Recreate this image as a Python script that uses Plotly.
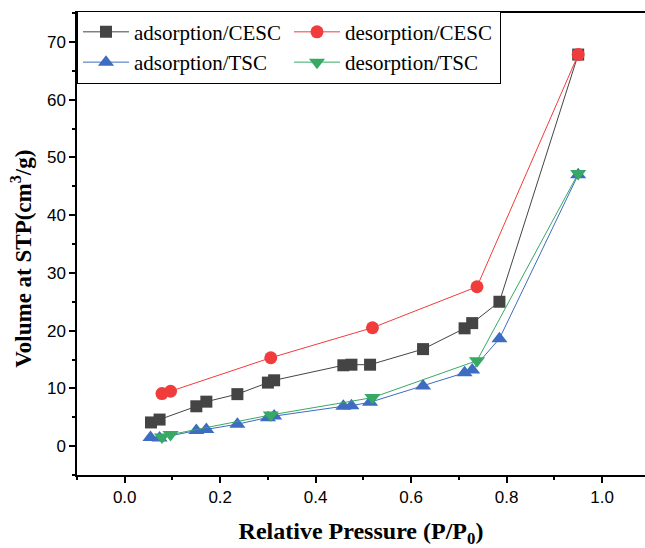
import plotly.graph_objects as go

# adsorption / CESC
ads_cesc_x = [0.055, 0.073, 0.150, 0.171, 0.236, 0.300, 0.313, 0.458, 0.475, 0.514, 0.625, 0.712, 0.728, 0.785, 0.950]
ads_cesc_y = [4.1, 4.6, 6.9, 7.7, 9.0, 11.0, 11.4, 14.0, 14.1, 14.1, 16.8, 20.4, 21.3, 25.0, 67.8]
# desorption / CESC
des_cesc_x = [0.078, 0.096, 0.306, 0.519, 0.738, 0.950]
des_cesc_y = [9.1, 9.5, 15.3, 20.5, 27.6, 67.8]
# adsorption / TSC
ads_tsc_x = [0.054, 0.073, 0.150, 0.171, 0.236, 0.300, 0.313, 0.458, 0.475, 0.514, 0.625, 0.712, 0.728, 0.785, 0.950]
ads_tsc_y = [1.5, 1.4, 2.7, 2.9, 3.8, 4.9, 5.2, 6.9, 7.0, 7.6, 10.4, 12.7, 13.2, 18.6, 47.0]
# desorption / TSC
des_tsc_x = [0.078, 0.096, 0.306, 0.519, 0.738, 0.950]
des_tsc_y = [1.6, 2.0, 5.4, 8.4, 14.8, 47.2]

x_ticks = [0.0, 0.2, 0.4, 0.6, 0.8, 1.0]
x_tick_labels = ["0.0", "0.2", "0.4", "0.6", "0.8", "1.0"]
y_ticks = [0, 10, 20, 30, 40, 50, 60, 70]

x_title = "<b>Relative Pressure (P/P<sub>0</sub>)</b>"
y_title = "<b>Volume at STP(cm<sup>3</sup>/g)</b>"

fig = go.Figure()
fig.add_trace(go.Scatter(x=ads_cesc_x, y=ads_cesc_y, name="adsorption/CESC", mode="lines+markers",
                         line=dict(color="#444444", width=1),
                         marker=dict(symbol="square", size=12, color="#444444")))
fig.add_trace(go.Scatter(x=des_cesc_x, y=des_cesc_y, name="desorption/CESC", mode="lines+markers",
                         line=dict(color="#f03c3c", width=1),
                         marker=dict(symbol="circle", size=13, color="#f03c3c")))
fig.add_trace(go.Scatter(x=ads_tsc_x, y=ads_tsc_y, name="adsorption/TSC", mode="lines+markers",
                         line=dict(color="#3d6cc0", width=1),
                         marker=dict(symbol="triangle-up", size=14, color="#3d6cc0")))
fig.add_trace(go.Scatter(x=des_tsc_x, y=des_tsc_y, name="desorption/TSC", mode="lines+markers",
                         line=dict(color="#38a865", width=1),
                         marker=dict(symbol="triangle-down", size=14, color="#38a865")))

tickfont = dict(family="Liberation Sans, Arial", size=17, color="#000000")
xtitlefont = dict(family="Liberation Serif, Times New Roman", size=24, color="#000000")
ytitlefont = dict(family="Liberation Serif, Times New Roman", size=23, color="#000000")

fig.update_layout(
    width=645, height=548,
    margin=dict(l=77, r=0, t=13, b=73),
    paper_bgcolor="white", plot_bgcolor="white",
    showlegend=True,
    legend=dict(orientation="h", x=0.0, y=1.005, xanchor="left", yanchor="top",
                entrywidth=150, entrywidthmode="pixels",
                font=dict(family="Liberation Serif, Times New Roman", size=21, color="#000000"),
                bordercolor="#000000", borderwidth=1, bgcolor="white",
                tracegroupgap=0, itemwidth=46),
    xaxis=dict(range=[-0.1, 1.09], tickvals=x_ticks, ticktext=x_tick_labels, automargin=False,
               showgrid=False, zeroline=False, showline=True, linecolor="#000000", linewidth=1.5,
               mirror=True, ticks="outside", ticklen=6, tickwidth=1.5, tickcolor="#000000",
               minor=dict(dtick=0.1, tick0=0, ticks="outside", ticklen=3, tickwidth=1.5, tickcolor="#000000"),
               tickfont=tickfont,
               title=dict(text=x_title, font=xtitlefont, standoff=26)),
    yaxis=dict(range=[-5, 75], tickvals=y_ticks, automargin=False,
               showgrid=False, zeroline=False, showline=True, linecolor="#000000", linewidth=1.5,
               ticks="outside", ticklen=6, tickwidth=1.5, tickcolor="#000000",
               minor=dict(dtick=5, tick0=-5, ticks="outside", ticklen=3, tickwidth=1.5, tickcolor="#000000"),
               tickfont=tickfont),
    annotations=[dict(text=y_title, font=ytitlefont, textangle=-90, showarrow=False,
                      xref="paper", yref="paper", x=-0.097, y=0.468,
                      xanchor="center", yanchor="middle")],
)

fig.write_html("out.html",
               config={"displayModeBar": False},
               post_script="document.body.style.margin='0';document.body.style.overflow='hidden';")
